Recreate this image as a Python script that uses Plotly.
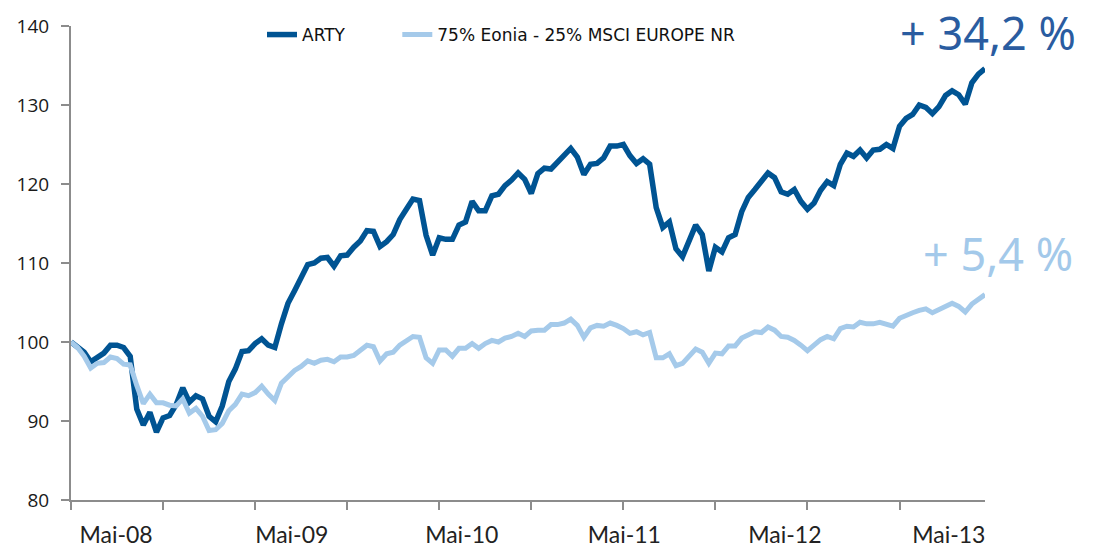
import plotly.graph_objects as go
import pandas as pd

# ---------------- data ----------------
START_DATE = "2008-03-28"          # first (bi-weekly) observation
STEP = "14D"

ARTY = [100.0, 99.4, 98.7, 97.5, 98.0, 98.6, 99.6, 99.6, 99.3, 98.2,
        91.5, 89.5, 91.1, 88.6, 90.4, 90.7, 92.1, 94.2, 92.4, 93.2,
        92.8, 90.6, 89.9, 91.9, 95.0, 96.6, 98.8, 98.9, 99.8, 100.4,
        99.6, 99.3, 102.3, 104.9, 106.5, 108.0, 109.8, 110.0, 110.6, 110.7,
        109.6, 110.9, 111.0, 112.0, 112.8, 114.1, 114.0, 112.1, 112.7, 113.6,
        115.5, 116.8, 118.1, 117.9, 113.5, 111.0, 113.2, 113.0, 113.0, 114.8,
        115.2, 117.8, 116.6, 116.6, 118.5, 118.7, 119.8, 120.5, 121.4, 120.6,
        118.8, 121.3, 122.0, 121.9, 122.8, 123.6, 124.5, 123.4, 121.2, 122.5,
        122.6, 123.3, 124.8, 124.8, 125.0, 123.6, 122.6, 123.2, 122.5, 117.0,
        114.5, 115.2, 111.8, 110.8, 112.7, 114.8, 113.6, 109.0, 112.0, 111.4,
        113.2, 113.6, 116.5, 118.3, 119.3, 120.5, 121.4, 120.8, 119.0, 118.7,
        119.3, 117.8, 116.8, 117.6, 119.2, 120.3, 119.8, 122.5, 123.9, 123.5,
        124.3, 123.3, 124.3, 124.4, 125.0, 124.5, 127.3, 128.3, 128.8, 130.0,
        129.7, 128.9, 129.8, 131.2, 131.8, 131.3, 130.1, 132.8, 133.9, 134.6]

BENCH = [100.0, 99.3, 98.2, 96.7, 97.3, 97.4, 98.1, 97.9, 97.2, 97.1,
         94.5, 92.2, 93.4, 92.3, 92.3, 92.0, 91.9, 92.8, 91.0, 91.6,
         90.6, 88.8, 88.9, 89.7, 91.3, 92.1, 93.4, 93.2, 93.6, 94.4,
         93.4, 92.6, 94.8, 95.7, 96.4, 96.9, 97.6, 97.3, 97.7, 97.8,
         97.5, 98.1, 98.1, 98.3, 98.9, 99.6, 99.4, 97.6, 98.5, 98.7,
         99.6, 100.1, 100.7, 100.6, 98.0, 97.3, 99.0, 99.0, 98.2, 99.2,
         99.2, 99.8, 99.2, 99.8, 100.2, 100.0, 100.5, 100.7, 101.1, 100.7,
         101.4, 101.5, 101.5, 102.2, 102.2, 102.4, 102.9, 102.1, 100.6, 101.8,
         102.1, 102.0, 102.4, 102.1, 101.7, 101.1, 101.3, 100.9, 101.2, 98.0,
         98.0, 98.5, 97.0, 97.3, 98.2, 99.1, 98.7, 97.3, 98.6, 98.5,
         99.5, 99.5, 100.5, 100.9, 101.3, 101.2, 101.9, 101.5, 100.7, 100.6,
         100.2, 99.6, 98.9, 99.6, 100.3, 100.7, 100.4, 101.7, 102.0, 101.9,
         102.5, 102.3, 102.3, 102.5, 102.2, 102.0, 103.0, 103.4, 103.7, 104.0,
         104.2, 103.7, 104.1, 104.6, 104.9, 104.5, 103.8, 104.8, 105.4, 106.0]

SERIES_NAMES = ["ARTY", "75% Eonia - 25% MSCI EUROPE NR"]
TICK_LABELS = ["Mai-08", "Mai-09", "Mai-10", "Mai-11", "Mai-12", "Mai-13"]
TICK_DATES = ["2008-07-02", "2009-07-11", "2010-07-08", "2011-06-19", "2012-05-26", "2013-05-10"]
PERF_LABELS = ["+ 34,2 %", "+ 5,4 %"]

# ---------------- figure ----------------
dates = pd.date_range(START_DATE, periods=len(ARTY), freq=STEP)

DARK = "#005493"
LIGHT = "#a5caea"
AXIS = "#8c8c8c"

fig = go.Figure()
fig.add_trace(go.Scatter(x=dates, y=ARTY, name=SERIES_NAMES[0], mode="lines",
                         line=dict(color=DARK, width=5.5), legend="legend"))
fig.add_trace(go.Scatter(x=dates, y=BENCH, name=SERIES_NAMES[1], mode="lines",
                         line=dict(color=LIGHT, width=5), legend="legend2"))

legend_font = dict(family="DejaVu Sans", size=17, color="#111111")

fig.update_layout(
    width=1094, height=549,
    margin=dict(l=71, r=109, t=26, b=49),
    paper_bgcolor="white", plot_bgcolor="white",
    showlegend=True,
    legend=dict(orientation="h", x=0.209, xanchor="left", y=0.981, yanchor="middle",
                font=legend_font, bgcolor="rgba(0,0,0,0)"),
    legend2=dict(orientation="h", x=0.357, xanchor="left", y=0.981, yanchor="middle",
                 font=legend_font, bgcolor="rgba(0,0,0,0)"),
    xaxis=dict(type="date", range=[dates[0], dates[-1]], automargin=False,
               showline=True, linecolor=AXIS, linewidth=2, showgrid=False, zeroline=False,
               tickmode="array", tickvals=TICK_DATES, ticktext=TICK_LABELS,
               ticks="", ticklabelstandoff=13,
               tickfont=dict(family="Lato", size=23, color="#222222"),
               minor=dict(ticks="outside", ticklen=8, tickwidth=2, tickcolor=AXIS,
                          tick0=START_DATE, dtick=196 * 86400000, showgrid=False)),
    yaxis=dict(range=[80, 140], dtick=10, showline=True, linecolor=AXIS, linewidth=2,
               automargin=False,
               showgrid=False, zeroline=False, ticks="outside", ticklen=8, tickwidth=2,
               tickcolor=AXIS, ticklabelstandoff=8,
               tickfont=dict(family="Open Sans", size=19, color="#1a1a1a")),
    annotations=[
        dict(text=PERF_LABELS[0], xref="paper", yref="paper", x=1.1017, y=1.054,
             xanchor="right", yanchor="top", showarrow=False,
             font=dict(family="Noto Sans", size=45, color="#2a5ca0")),
        dict(text=PERF_LABELS[1], xref="paper", yref="paper", x=1.0985, y=0.52,
             xanchor="right", yanchor="middle", showarrow=False,
             font=dict(family="Noto Sans", size=45, color="#a3c9ea")),
    ],
)

fig.write_html("out.html", config={"displayModeBar": False},
               post_script="document.body.style.margin='0';")
